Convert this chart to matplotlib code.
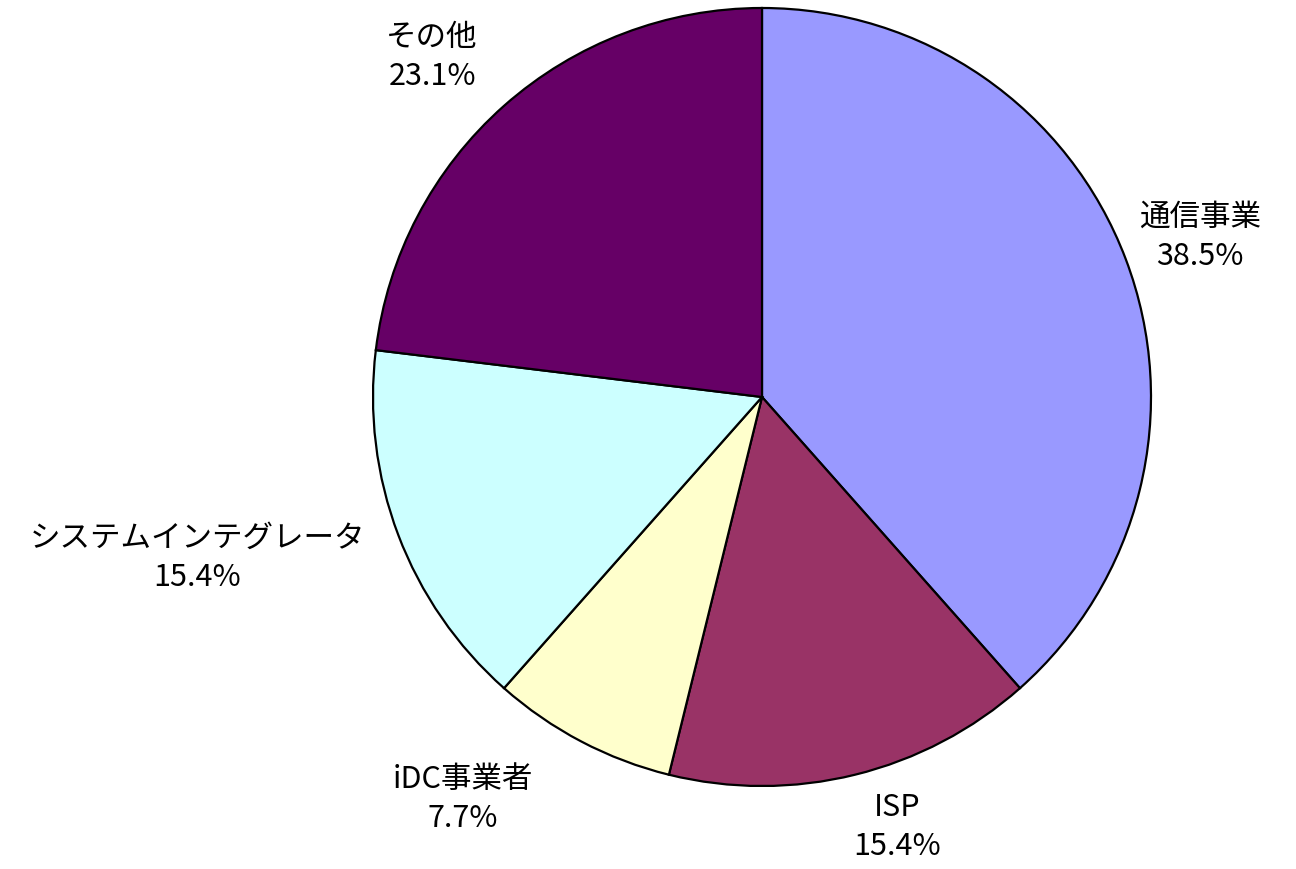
import matplotlib.pyplot as plt

plt.rcParams['font.family'] = ['Noto Sans CJK JP', 'DejaVu Sans']

categories = ['通信事業', 'ISP', 'iDC事業者', 'システムインテグレータ', 'その他']
shares = [38.5, 15.4, 7.7, 15.4, 23.1]
colors = ['#9999FF', '#993366', '#FFFFCC', '#CCFFFF', '#660066']

labels = [f'{c}\n{v:.1f}%' for c, v in zip(categories, shares)]

# label centres, in units of the pie radius (hand placed like the original)
label_pos = [(1.126, 0.411), (0.347, -1.105), (-0.769, -1.033),
             (-1.452, -0.414), (-0.848, 0.874)]

fig = plt.figure(figsize=(12.96, 8.69), dpi=100)
R = 389
cx, cy = 762, 869 - 397
ax = fig.add_axes([(cx - R) / 1296, (cy - R) / 869, 2 * R / 1296, 2 * R / 869])

wedges, texts = ax.pie(shares, labels=labels, colors=colors, startangle=90,
                       counterclock=False,
                       wedgeprops=dict(edgecolor='black', linewidth=1.6),
                       textprops=dict(fontsize=22, multialignment='center',
                                      linespacing=1.35))
for t, (x, y) in zip(texts, label_pos):
    t.set_position((x, y))
    t.set_ha('center')
    t.set_va('center')

ax.set_xlim(-1, 1)
ax.set_ylim(-1, 1)
ax.set_aspect('equal')
ax.axis('off')

fig.savefig('out.png', dpi=100)
